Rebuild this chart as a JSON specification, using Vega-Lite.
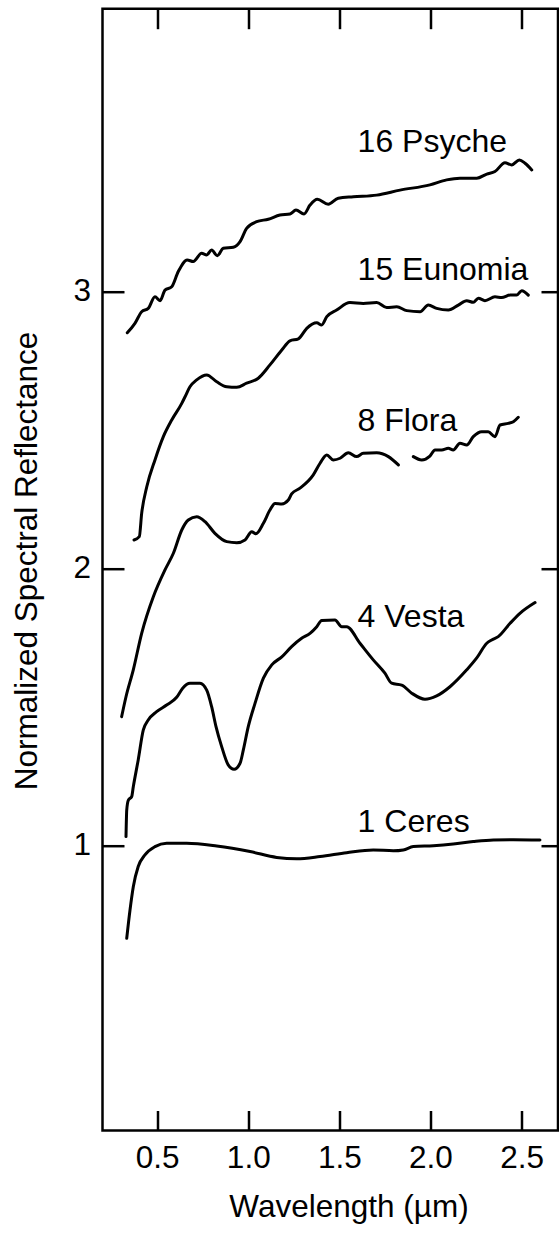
{
  "$schema": "https://vega.github.io/schema/vega-lite/v6.json",
  "width": 455.5,
  "height": 1121.8,
  "autosize": {"type": "none"},
  "padding": {"left": 102.5, "top": 8.7, "right": 1, "bottom": 104.5},
  "background": "white",
  "config": {
    "view": {"stroke": "black", "strokeWidth": 2.5},
    "axis": {"labelFont": "Liberation Sans", "titleFont": "Liberation Sans", "labelColor": "black", "titleColor": "black", "tickColor": "black", "titleFontWeight": "normal", "grid": false, "domain": false}
  },
  "layer": [
    {
      "data": {"values": [
        {"s": "Psyche", "w": 0.336, "r": 2.850}, {"s": "Psyche", "w": 0.378, "r": 2.884}, {"s": "Psyche", "w": 0.415, "r": 2.926}, {"s": "Psyche", "w": 0.451, "r": 2.938}, {"s": "Psyche", "w": 0.488, "r": 2.980}, {"s": "Psyche", "w": 0.516, "r": 2.966}, {"s": "Psyche", "w": 0.543, "r": 3.004}, {"s": "Psyche", "w": 0.580, "r": 3.016}, {"s": "Psyche", "w": 0.616, "r": 3.071}, {"s": "Psyche", "w": 0.665, "r": 3.113}, {"s": "Psyche", "w": 0.698, "r": 3.107}, {"s": "Psyche", "w": 0.744, "r": 3.137}, {"s": "Psyche", "w": 0.772, "r": 3.131}, {"s": "Psyche", "w": 0.799, "r": 3.149}, {"s": "Psyche", "w": 0.830, "r": 3.128}, {"s": "Psyche", "w": 0.863, "r": 3.155}, {"s": "Psyche", "w": 0.918, "r": 3.159}, {"s": "Psyche", "w": 0.955, "r": 3.179}, {"s": "Psyche", "w": 0.991, "r": 3.227}, {"s": "Psyche", "w": 1.046, "r": 3.251}, {"s": "Psyche", "w": 1.110, "r": 3.260}, {"s": "Psyche", "w": 1.174, "r": 3.275}, {"s": "Psyche", "w": 1.229, "r": 3.279}, {"s": "Psyche", "w": 1.262, "r": 3.293}, {"s": "Psyche", "w": 1.306, "r": 3.279}, {"s": "Psyche", "w": 1.339, "r": 3.311}, {"s": "Psyche", "w": 1.379, "r": 3.332}, {"s": "Psyche", "w": 1.439, "r": 3.314}, {"s": "Psyche", "w": 1.494, "r": 3.336}, {"s": "Psyche", "w": 1.577, "r": 3.341}, {"s": "Psyche", "w": 1.705, "r": 3.347}, {"s": "Psyche", "w": 1.833, "r": 3.365}, {"s": "Psyche", "w": 1.997, "r": 3.384}, {"s": "Psyche", "w": 2.089, "r": 3.402}, {"s": "Psyche", "w": 2.162, "r": 3.408}, {"s": "Psyche", "w": 2.254, "r": 3.408}, {"s": "Psyche", "w": 2.309, "r": 3.423}, {"s": "Psyche", "w": 2.354, "r": 3.432}, {"s": "Psyche", "w": 2.409, "r": 3.464}, {"s": "Psyche", "w": 2.446, "r": 3.456}, {"s": "Psyche", "w": 2.488, "r": 3.474}, {"s": "Psyche", "w": 2.519, "r": 3.462}, {"s": "Psyche", "w": 2.556, "r": 3.438},

        {"s": "Eunomia", "w": 0.373, "r": 2.102}, {"s": "Eunomia", "w": 0.402, "r": 2.114}, {"s": "Eunomia", "w": 0.415, "r": 2.198}, {"s": "Eunomia", "w": 0.443, "r": 2.294}, {"s": "Eunomia", "w": 0.488, "r": 2.391}, {"s": "Eunomia", "w": 0.534, "r": 2.475}, {"s": "Eunomia", "w": 0.580, "r": 2.535}, {"s": "Eunomia", "w": 0.635, "r": 2.595}, {"s": "Eunomia", "w": 0.653, "r": 2.619}, {"s": "Eunomia", "w": 0.680, "r": 2.655}, {"s": "Eunomia", "w": 0.717, "r": 2.680}, {"s": "Eunomia", "w": 0.772, "r": 2.698}, {"s": "Eunomia", "w": 0.827, "r": 2.673}, {"s": "Eunomia", "w": 0.882, "r": 2.655}, {"s": "Eunomia", "w": 0.937, "r": 2.653}, {"s": "Eunomia", "w": 0.991, "r": 2.668}, {"s": "Eunomia", "w": 1.055, "r": 2.686}, {"s": "Eunomia", "w": 1.119, "r": 2.734}, {"s": "Eunomia", "w": 1.184, "r": 2.788}, {"s": "Eunomia", "w": 1.229, "r": 2.821}, {"s": "Eunomia", "w": 1.275, "r": 2.828}, {"s": "Eunomia", "w": 1.321, "r": 2.866}, {"s": "Eunomia", "w": 1.376, "r": 2.886}, {"s": "Eunomia", "w": 1.403, "r": 2.878}, {"s": "Eunomia", "w": 1.431, "r": 2.908}, {"s": "Eunomia", "w": 1.485, "r": 2.932}, {"s": "Eunomia", "w": 1.558, "r": 2.959}, {"s": "Eunomia", "w": 1.631, "r": 2.956}, {"s": "Eunomia", "w": 1.705, "r": 2.959}, {"s": "Eunomia", "w": 1.760, "r": 2.941}, {"s": "Eunomia", "w": 1.815, "r": 2.944}, {"s": "Eunomia", "w": 1.870, "r": 2.930}, {"s": "Eunomia", "w": 1.943, "r": 2.926}, {"s": "Eunomia", "w": 1.988, "r": 2.950}, {"s": "Eunomia", "w": 2.034, "r": 2.938}, {"s": "Eunomia", "w": 2.098, "r": 2.932}, {"s": "Eunomia", "w": 2.153, "r": 2.950}, {"s": "Eunomia", "w": 2.199, "r": 2.966}, {"s": "Eunomia", "w": 2.235, "r": 2.960}, {"s": "Eunomia", "w": 2.263, "r": 2.975}, {"s": "Eunomia", "w": 2.299, "r": 2.966}, {"s": "Eunomia", "w": 2.354, "r": 2.980}, {"s": "Eunomia", "w": 2.391, "r": 2.977}, {"s": "Eunomia", "w": 2.437, "r": 2.986}, {"s": "Eunomia", "w": 2.473, "r": 2.986}, {"s": "Eunomia", "w": 2.501, "r": 3.002}, {"s": "Eunomia", "w": 2.537, "r": 2.986},

        {"s": "Flora A", "w": 0.305, "r": 1.464}, {"s": "Flora A", "w": 0.329, "r": 1.536}, {"s": "Flora A", "w": 0.369, "r": 1.633}, {"s": "Flora A", "w": 0.415, "r": 1.765}, {"s": "Flora A", "w": 0.479, "r": 1.897}, {"s": "Flora A", "w": 0.543, "r": 1.994}, {"s": "Flora A", "w": 0.589, "r": 2.054}, {"s": "Flora A", "w": 0.635, "r": 2.138}, {"s": "Flora A", "w": 0.671, "r": 2.174}, {"s": "Flora A", "w": 0.717, "r": 2.186}, {"s": "Flora A", "w": 0.763, "r": 2.168}, {"s": "Flora A", "w": 0.817, "r": 2.126}, {"s": "Flora A", "w": 0.882, "r": 2.096}, {"s": "Flora A", "w": 0.937, "r": 2.092}, {"s": "Flora A", "w": 0.982, "r": 2.102}, {"s": "Flora A", "w": 1.019, "r": 2.132}, {"s": "Flora A", "w": 1.042, "r": 2.124}, {"s": "Flora A", "w": 1.083, "r": 2.162}, {"s": "Flora A", "w": 1.119, "r": 2.210}, {"s": "Flora A", "w": 1.147, "r": 2.234}, {"s": "Flora A", "w": 1.184, "r": 2.232}, {"s": "Flora A", "w": 1.220, "r": 2.246}, {"s": "Flora A", "w": 1.238, "r": 2.268}, {"s": "Flora A", "w": 1.284, "r": 2.289}, {"s": "Flora A", "w": 1.357, "r": 2.337}, {"s": "Flora A", "w": 1.394, "r": 2.379}, {"s": "Flora A", "w": 1.431, "r": 2.409}, {"s": "Flora A", "w": 1.467, "r": 2.391}, {"s": "Flora A", "w": 1.504, "r": 2.397}, {"s": "Flora A", "w": 1.549, "r": 2.417}, {"s": "Flora A", "w": 1.595, "r": 2.403}, {"s": "Flora A", "w": 1.631, "r": 2.415}, {"s": "Flora A", "w": 1.705, "r": 2.417}, {"s": "Flora A", "w": 1.769, "r": 2.403}, {"s": "Flora A", "w": 1.824, "r": 2.373},
        {"s": "Flora B", "w": 1.906, "r": 2.403}, {"s": "Flora B", "w": 1.952, "r": 2.391}, {"s": "Flora B", "w": 1.997, "r": 2.405}, {"s": "Flora B", "w": 2.025, "r": 2.427}, {"s": "Flora B", "w": 2.062, "r": 2.427}, {"s": "Flora B", "w": 2.098, "r": 2.433}, {"s": "Flora B", "w": 2.125, "r": 2.427}, {"s": "Flora B", "w": 2.162, "r": 2.451}, {"s": "Flora B", "w": 2.199, "r": 2.445}, {"s": "Flora B", "w": 2.235, "r": 2.475}, {"s": "Flora B", "w": 2.281, "r": 2.493}, {"s": "Flora B", "w": 2.317, "r": 2.493}, {"s": "Flora B", "w": 2.354, "r": 2.475}, {"s": "Flora B", "w": 2.382, "r": 2.517}, {"s": "Flora B", "w": 2.427, "r": 2.523}, {"s": "Flora B", "w": 2.455, "r": 2.529}, {"s": "Flora B", "w": 2.482, "r": 2.545},

        {"s": "Vesta", "w": 0.329, "r": 1.031}, {"s": "Vesta", "w": 0.333, "r": 1.127}, {"s": "Vesta", "w": 0.342, "r": 1.163}, {"s": "Vesta", "w": 0.360, "r": 1.175}, {"s": "Vesta", "w": 0.369, "r": 1.211}, {"s": "Vesta", "w": 0.396, "r": 1.308}, {"s": "Vesta", "w": 0.424, "r": 1.416}, {"s": "Vesta", "w": 0.451, "r": 1.452}, {"s": "Vesta", "w": 0.497, "r": 1.482}, {"s": "Vesta", "w": 0.552, "r": 1.506}, {"s": "Vesta", "w": 0.607, "r": 1.534}, {"s": "Vesta", "w": 0.640, "r": 1.567}, {"s": "Vesta", "w": 0.680, "r": 1.585}, {"s": "Vesta", "w": 0.735, "r": 1.585}, {"s": "Vesta", "w": 0.772, "r": 1.560}, {"s": "Vesta", "w": 0.799, "r": 1.500}, {"s": "Vesta", "w": 0.823, "r": 1.428}, {"s": "Vesta", "w": 0.854, "r": 1.356}, {"s": "Vesta", "w": 0.890, "r": 1.290}, {"s": "Vesta", "w": 0.922, "r": 1.274}, {"s": "Vesta", "w": 0.955, "r": 1.296}, {"s": "Vesta", "w": 0.973, "r": 1.344}, {"s": "Vesta", "w": 1.000, "r": 1.428}, {"s": "Vesta", "w": 1.037, "r": 1.512}, {"s": "Vesta", "w": 1.083, "r": 1.603}, {"s": "Vesta", "w": 1.129, "r": 1.651}, {"s": "Vesta", "w": 1.184, "r": 1.680}, {"s": "Vesta", "w": 1.238, "r": 1.717}, {"s": "Vesta", "w": 1.293, "r": 1.747}, {"s": "Vesta", "w": 1.339, "r": 1.765}, {"s": "Vesta", "w": 1.376, "r": 1.789}, {"s": "Vesta", "w": 1.403, "r": 1.811}, {"s": "Vesta", "w": 1.476, "r": 1.813}, {"s": "Vesta", "w": 1.513, "r": 1.789}, {"s": "Vesta", "w": 1.540, "r": 1.789}, {"s": "Vesta", "w": 1.613, "r": 1.729}, {"s": "Vesta", "w": 1.686, "r": 1.669}, {"s": "Vesta", "w": 1.750, "r": 1.621}, {"s": "Vesta", "w": 1.787, "r": 1.585}, {"s": "Vesta", "w": 1.842, "r": 1.578}, {"s": "Vesta", "w": 1.897, "r": 1.549}, {"s": "Vesta", "w": 1.970, "r": 1.527}, {"s": "Vesta", "w": 2.034, "r": 1.539}, {"s": "Vesta", "w": 2.107, "r": 1.572}, {"s": "Vesta", "w": 2.199, "r": 1.633}, {"s": "Vesta", "w": 2.254, "r": 1.676}, {"s": "Vesta", "w": 2.309, "r": 1.729}, {"s": "Vesta", "w": 2.336, "r": 1.741}, {"s": "Vesta", "w": 2.372, "r": 1.753}, {"s": "Vesta", "w": 2.437, "r": 1.801}, {"s": "Vesta", "w": 2.491, "r": 1.837}, {"s": "Vesta", "w": 2.574, "r": 1.876},

        {"s": "Ceres", "w": 0.333, "r": 0.664}, {"s": "Ceres", "w": 0.351, "r": 0.766}, {"s": "Ceres", "w": 0.369, "r": 0.850}, {"s": "Ceres", "w": 0.396, "r": 0.923}, {"s": "Ceres", "w": 0.433, "r": 0.965}, {"s": "Ceres", "w": 0.488, "r": 0.995}, {"s": "Ceres", "w": 0.552, "r": 1.007}, {"s": "Ceres", "w": 0.662, "r": 1.007}, {"s": "Ceres", "w": 0.827, "r": 0.997}, {"s": "Ceres", "w": 1.010, "r": 0.977}, {"s": "Ceres", "w": 1.156, "r": 0.956}, {"s": "Ceres", "w": 1.266, "r": 0.951}, {"s": "Ceres", "w": 1.394, "r": 0.959}, {"s": "Ceres", "w": 1.540, "r": 0.973}, {"s": "Ceres", "w": 1.686, "r": 0.983}, {"s": "Ceres", "w": 1.796, "r": 0.980}, {"s": "Ceres", "w": 1.851, "r": 0.983}, {"s": "Ceres", "w": 1.906, "r": 0.995}, {"s": "Ceres", "w": 2.016, "r": 0.998}, {"s": "Ceres", "w": 2.125, "r": 1.004}, {"s": "Ceres", "w": 2.235, "r": 1.013}, {"s": "Ceres", "w": 2.345, "r": 1.019}, {"s": "Ceres", "w": 2.455, "r": 1.020}, {"s": "Ceres", "w": 2.601, "r": 1.019}
      ]},
      "mark": {"type": "line", "stroke": "black", "strokeWidth": 3, "interpolate": "monotone", "strokeCap": "round", "strokeJoin": "round"},
      "encoding": {
        "x": {"field": "w", "type": "quantitative", "scale": {"domain": [0.2, 2.7], "nice": false, "zero": false},
          "axis": {"orient": "bottom", "values": [0.5, 1, 1.5, 2, 2.5], "format": ".1f", "tickSize": -20, "tickWidth": 2.5, "labelPadding": 32, "labelFontSize": 31.5, "labelFlush": false, "labelOverlap": false,
            "title": "Wavelength (µm)", "titleFontSize": 31.5, "titleBaseline": "alphabetic", "titleAlign": "center", "titleX": 246, "titleY": 85.5}},
        "y": {"field": "r", "type": "quantitative", "scale": {"domain": [-0.03, 4.02], "nice": false, "zero": false},
          "axis": {"orient": "left", "values": [1, 2, 3], "format": "d", "tickSize": -21.5, "tickWidth": 2.5, "labelPadding": 33.5, "labelFontSize": 31.5, "labelOverlap": false,
            "title": "Normalized Spectral Reflectance", "titleFontSize": 31.5, "titleBaseline": "alphabetic", "titleAlign": "center", "titleAngle": -90, "titleX": -66.5, "titleY": 551.8}},
        "detail": {"field": "s", "type": "nominal"}
      }
    },
    {
      "data": {"values": [
        {"label": "16 Psyche", "w": 1.6, "r": 3.502},
        {"label": "15 Eunomia", "w": 1.6, "r": 3.041},
        {"label": "8 Flora", "w": 1.6, "r": 2.497},
        {"label": "4 Vesta", "w": 1.6, "r": 1.787},
        {"label": "1 Ceres", "w": 1.6, "r": 1.049}
      ]},
      "mark": {"type": "text", "align": "left", "baseline": "alphabetic", "fontSize": 32, "font": "Liberation Sans", "color": "black"},
      "encoding": {
        "x": {"field": "w", "type": "quantitative", "scale": {"domain": [0.2, 2.7], "nice": false, "zero": false},
          "axis": {"orient": "top", "values": [0.5, 1, 1.5, 2, 2.5], "labels": false, "tickSize": -20, "tickWidth": 2.5, "title": null}},
        "y": {"field": "r", "type": "quantitative", "scale": {"domain": [-0.03, 4.02], "nice": false, "zero": false},
          "axis": {"orient": "right", "values": [1, 2, 3], "labels": false, "tickSize": -17, "tickWidth": 2.5, "title": null}},
        "text": {"field": "label", "type": "nominal"}
      }
    }
  ],
  "resolve": {"axis": {"x": "independent", "y": "independent"}}
}
